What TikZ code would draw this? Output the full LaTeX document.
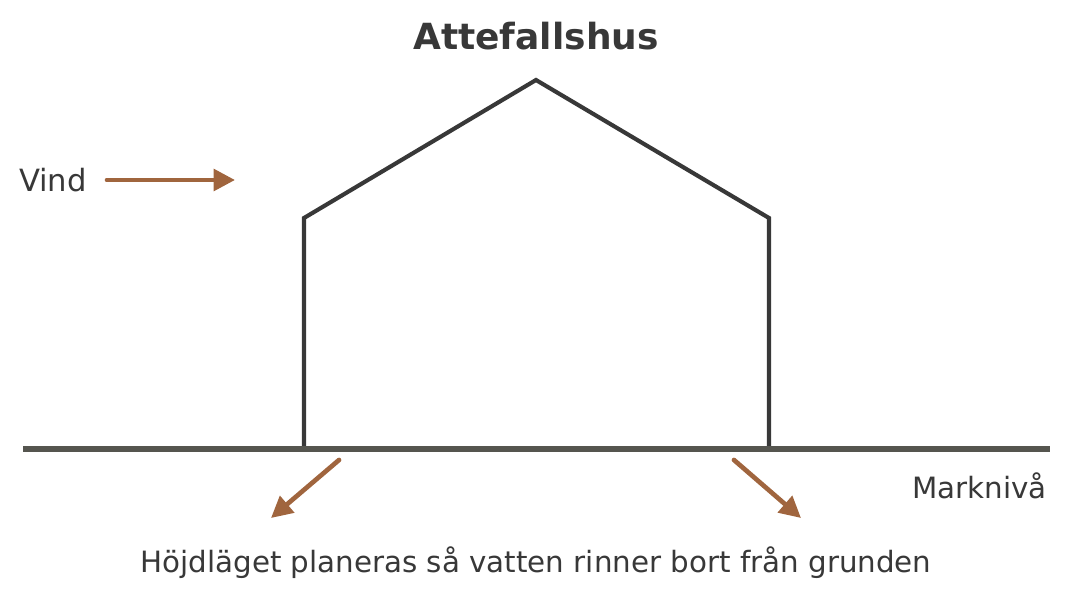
\documentclass[tikz,border=0pt]{standalone}
\usepackage{fontspec}
\setmainfont{DejaVu Sans}
\definecolor{ink}{HTML}{383838}
\definecolor{ground}{HTML}{55554F}
\definecolor{flow}{HTML}{A0653E}
\usetikzlibrary{arrows.meta}

\begin{document}
\begin{tikzpicture}[%
	    x=0.75pt,
	    y=-0.75pt,
	    wall/.style={draw=ink, line width=3.1pt, line join=miter},
	    flowarrow/.style={draw=flow, line width=3.5pt, line cap=round,
	        -{Triangle[length=16pt, width=16pt]}},
	    label/.style={text=ink, font=\fontsize{22}{26}\selectfont, inner sep=0pt}
	  ]

	  \useasboundingbox (0,0) rectangle (1071,599);

	  % house outline
	  \coordinate (GL) at (304,449);
	  \coordinate (EL) at (304,218);
	  \coordinate (TOP) at (536,80);
	  \coordinate (ER) at (769,218);
	  \coordinate (GR) at (769,449);
	  \draw[wall] (GL) -- (EL) -- (TOP) -- (ER) -- (GR);

	  % ground level
	  \coordinate (G0) at (23,449);
	  \coordinate (G1) at (1050,449);
	  \draw[draw=ground, line width=4.5pt] (G0) -- (G1);

	  \node[text=ink, font=\fontsize{27}{32}\selectfont\bfseries, inner sep=0pt] (TITLE) at (536,36) {Attefallshus};
	  \node[label, font=\fontsize{23}{27}\selectfont] (VIND) at (53,180) {Vind};
	  \node[label, anchor=east] (MARK) at (1047,486) {Marknivå};
	  \node[label] (NOTE) at (536,563) {Höjdläget planeras så vatten rinner bort från grunden};

	  % arrows
	  \coordinate (V0) at (107,180);
	  \coordinate (V1) at (235,180);
	  \coordinate (L0) at (339,460);
	  \coordinate (L1) at (271,518);
	  \coordinate (R0) at (734,460);
	  \coordinate (R1) at (801,518);
	  \path[flowarrow] (V0) -- (V1);
	  \path[flowarrow] (L0) -- (L1);
	  \path[flowarrow] (R0) -- (R1);

\end{tikzpicture}
\end{document}
